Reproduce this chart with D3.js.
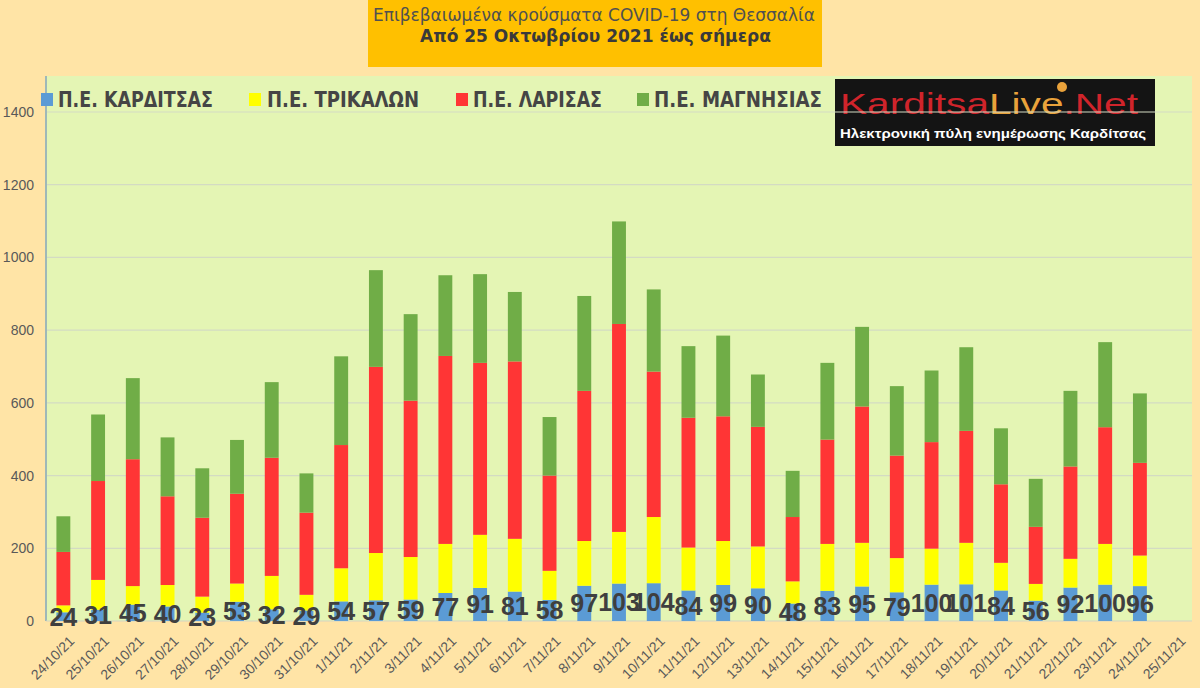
<!DOCTYPE html>
<html>
<head>
<meta charset="utf-8">
<script src="https://cdn.jsdelivr.net/npm/d3@7/dist/d3.min.js"></script>
<style>
  body { margin: 0; background: #FFE4A6; }
  svg { display: block; }
</style>
</head>
<body>
<div class="chart"></div>
<script>
"use strict";

// dates on the axis (the last one has no bar yet)
var dates = ["24/10/21","25/10/21","26/10/21","27/10/21","28/10/21","29/10/21","30/10/21","31/10/21",
  "1/11/21","2/11/21","3/11/21","4/11/21","5/11/21","6/11/21","7/11/21","8/11/21","9/11/21","10/11/21",
  "11/11/21","12/11/21","13/11/21","14/11/21","15/11/21","16/11/21","17/11/21","18/11/21","19/11/21",
  "20/11/21","21/11/21","22/11/21","23/11/21","24/11/21","25/11/21"];

var karditsa = [24,31,45,40,23,53,32,29,54,57,59,77,91,81,58,97,103,104,84,99,90,48,83,95,79,100,101,84,56,92,100,96];
var trikala  = [19,82,51,59,44,50,92,43,91,130,117,135,146,145,80,123,142,182,118,121,115,61,129,120,94,99,114,76,46,79,112,84];
var larisa   = [147,272,349,244,217,247,325,226,339,512,430,517,473,488,262,413,572,400,357,343,329,177,287,375,282,293,308,216,157,254,321,255];
var magnisia = [98,183,223,162,136,148,208,108,244,266,238,222,244,191,161,261,282,226,197,222,144,127,211,219,191,197,230,154,132,208,234,191];

var seriesNames = ["Π.Ε. ΚΑΡΔΙΤΣΑΣ", "Π.Ε. ΤΡΙΚΑΛΩΝ", "Π.Ε. ΛΑΡΙΣΑΣ", "Π.Ε. ΜΑΓΝΗΣΙΑΣ"];
var seriesKeys = ["karditsa", "trikala", "larisa", "magnisia"];
var colors = ["#5B9BD5", "#FFFF00", "#FF3535", "#70AD47"];
var yTicks = [0, 200, 400, 600, 800, 1000, 1200, 1400];

var width = 1200,
    height = 688;

var rows = karditsa.map(function(d, i){
  return { date: dates[i], karditsa: d, trikala: trikala[i], larisa: larisa[i], magnisia: magnisia[i] };
});

var svg = d3.select(".chart")
          .append("svg")
          .attr("width", width)
          .attr("height", height);

svg.append("rect")
    .attr("width", width)
    .attr("height", height)
    .attr("fill", "#FFE4A6");

var plot = { left: 46, right: 1192, top: 76, bottom: 621 };

// plot area
svg.append("rect")
    .attr("x", plot.left)
    .attr("y", plot.top)
    .attr("width", plot.right - plot.left)
    .attr("height", plot.bottom - plot.top)
    .attr("fill", "#E4F5B4");

var x = d3.scaleBand()
    .domain(dates)
    .range([plot.left, plot.right])
    .paddingInner(0.6)
    .paddingOuter(0.3);

var y = d3.scaleLinear()
    .domain([0, 1400])
    .range([plot.bottom, 112]);

// logo box
var logo = svg.append("g");
logo.append("rect")
    .attr("x", 835).attr("y", 79)
    .attr("width", 320).attr("height", 67)
    .attr("fill", "#141414");
var logoText = logo.append("text")
    .attr("x", 840).attr("y", 114)
    .style("font-family", "'Liberation Sans', Arial, sans-serif")
    .style("font-size", "29px")
    .attr("textLength", 298)
    .attr("lengthAdjust", "spacingAndGlyphs");
logoText.append("tspan").attr("fill", "#D0242B").text("Karditsa");
logoText.append("tspan").attr("fill", "#E9A23B").text("Live");
logoText.append("tspan").attr("fill", "#D0242B").text(".Net");
logo.append("circle")
    .attr("cx", 1062).attr("cy", 87).attr("r", 5)
    .attr("fill", "#E9A23B");
logo.append("text")
    .attr("x", 840).attr("y", 138)
    .attr("fill", "#ffffff")
    .style("font-family", "'Liberation Sans', Arial, sans-serif")
    .style("font-weight", "bold")
    .style("font-size", "13px")
    .attr("textLength", 306)
    .attr("lengthAdjust", "spacingAndGlyphs")
    .text("Ηλεκτρονική πύλη ενημέρωσης Καρδίτσας");

// gridlines
svg.append("g")
    .selectAll("line")
    .data(yTicks.slice(1))
    .enter().append("line")
        .attr("x1", plot.left)
        .attr("x2", plot.right)
        .attr("y1", function(d){ return y(d); })
        .attr("y2", function(d){ return y(d); })
        .style("stroke", "#D3DBC3")
        .style("stroke-width", "1.2");

// y axis labels
var yAxis = svg.append("g")
    .attr("transform", "translate(" + plot.left + ",0)")
    .call(d3.axisLeft(y).tickValues(yTicks).tickFormat(d3.format("d")).tickSize(0).tickPadding(12));
yAxis.select(".domain").remove();
yAxis.selectAll("text")
    .style("font-family", "'Liberation Sans', Arial, sans-serif")
    .style("font-size", "14px")
    .attr("fill", "#595959");

// axis lines
svg.append("line")
    .attr("x1", plot.left).attr("x2", plot.left)
    .attr("y1", plot.top).attr("y2", plot.bottom)
    .style("stroke", "#9FB8B8")
    .style("stroke-width", "2");
svg.append("line")
    .attr("x1", plot.left).attr("x2", plot.right)
    .attr("y1", plot.bottom).attr("y2", plot.bottom)
    .style("stroke", "#D3D3C3")
    .style("stroke-width", "1");

// stacked bars
var stack = d3.stack().keys(seriesKeys);
var layers = stack(rows);

svg.append("g")
    .selectAll("g")
    .data(layers)
    .enter().append("g")
        .attr("fill", function(d, i){ return colors[i]; })
    .selectAll("rect")
    .data(function(d){ return d; })
    .enter().append("rect")
        .attr("x", function(d){ return x(d.data.date); })
        .attr("y", function(d){ return y(d[1]); })
        .attr("width", x.bandwidth())
        .attr("height", function(d){ return y(d[0]) - y(d[1]); });

// value labels of the first series (they overlap in the original too)
svg.append("g")
    .selectAll("text")
    .data(layers[0])
    .enter().append("text")
        .attr("x", function(d){ return x(d.data.date) + x.bandwidth() / 2; })
        .attr("y", function(d){ return (y(d[0]) + y(d[1])) / 2; })
        .attr("dy", "0.36em")
        .style("text-anchor", "middle")
        .style("font-family", "'Liberation Sans', Arial, sans-serif")
        .style("font-weight", "bold")
        .style("font-size", "25px")
        .attr("fill", "#3F3F3F")
        .text(function(d){ return d.data.karditsa; });

// date labels
svg.append("g")
    .selectAll("text")
    .data(dates)
    .enter().append("text")
        .attr("transform", function(d){
          return "translate(" + (x(d) + x.bandwidth() / 2 + 5) + ",635) rotate(-45)";
        })
        .attr("dy", "0.7em")
        .style("text-anchor", "end")
        .style("font-family", "'Liberation Sans', Arial, sans-serif")
        .style("font-size", "14px")
        .attr("fill", "#595959")
        .text(function(d){ return d; });

// legend
var legendPos = [[41, 58, 155], [249, 267, 152], [456, 473, 129], [637, 654, 168]];
var legend = svg.append("g")
    .selectAll("g")
    .data(seriesNames)
    .enter().append("g");
legend.append("rect")
    .attr("x", function(d, i){ return legendPos[i][0]; })
    .attr("y", 93)
    .attr("width", 12)
    .attr("height", 13)
    .attr("fill", function(d, i){ return colors[i]; });
legend.append("text")
    .attr("x", function(d, i){ return legendPos[i][1]; })
    .attr("y", 107)
    .attr("textLength", function(d, i){ return legendPos[i][2]; })
    .attr("lengthAdjust", "spacingAndGlyphs")
    .style("font-family", "'Liberation Sans Narrow', 'DejaVu Sans Condensed', sans-serif")
    .style("font-weight", "bold")
    .style("font-size", "21px")
    .attr("fill", "#454545")
    .text(function(d){ return d; });

// title box
svg.append("rect")
    .attr("x", 368).attr("y", 0)
    .attr("width", 454).attr("height", 67)
    .attr("fill", "#FFC000");
svg.append("text")
    .attr("x", 373).attr("y", 21)
    .attr("textLength", 442)
    .attr("lengthAdjust", "spacingAndGlyphs")
    .style("font-family", "'Liberation Sans Narrow', 'DejaVu Sans Condensed', sans-serif")
    .style("font-size", "17px")
    .attr("fill", "#505050")
    .text("Επιβεβαιωμένα κρούσματα COVID-19 στη Θεσσαλία");
svg.append("text")
    .attr("x", 420).attr("y", 42)
    .attr("textLength", 351)
    .attr("lengthAdjust", "spacingAndGlyphs")
    .style("font-family", "'Liberation Sans Narrow', 'DejaVu Sans Condensed', sans-serif")
    .style("font-weight", "bold")
    .style("font-size", "17px")
    .attr("fill", "#3A3A3A")
    .text("Από 25 Οκτωβρίου 2021 έως σήμερα");
</script>
</body>
</html>
